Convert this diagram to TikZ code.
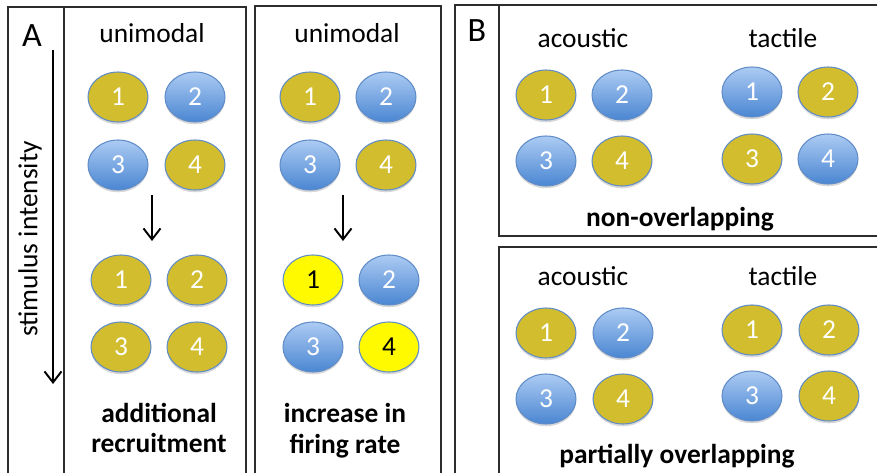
\documentclass[tikz,border=0pt]{standalone}
\usepackage{fontspec}
\setmainfont{Carlito}
\usetikzlibrary{shapes.geometric}
\usetikzlibrary{arrows.meta}
\usetikzlibrary{shadows}

\definecolor{goldfill}{RGB}{209,189,46}
\definecolor{bluetop}{RGB}{172,203,243}
\definecolor{bluebot}{RGB}{74,134,210}
\definecolor{rimblue}{RGB}{96,140,200}
\definecolor{hotyellow}{RGB}{255,250,0}
\definecolor{framegray}{RGB}{45,45,45}

\tikzset{
  cell/.style={ellipse, minimum width=1.2cm, minimum height=1cm, inner sep=0pt,
    draw=rimblue, line width=0.6pt, text=white, font=\fontsize{15.6}{18}\selectfont,
    drop shadow={shadow xshift=0pt, shadow yshift=-1.3pt, opacity=0.22, fill=black!70}},
  goldcell/.style={cell, fill=goldfill},
  bluecell/.style={cell, top color=bluetop, bottom color=bluebot},
  hotcell/.style={cell, fill=hotyellow, text=black},
  panel/.style={draw=framegray, line width=1.1pt},
  heading/.style={font=\fontsize{15.6}{18}\selectfont},
  boldcap/.style={font=\bfseries\fontsize{15.6}{17.6}\selectfont, align=center},
  paneltag/.style={font=\fontsize{19.4}{22}\selectfont},
  flow/.style={-{Straight Barb[length=0.22cm,width=0.34cm]}, line width=1.1pt}
}

\begin{document}
\begin{tikzpicture}[x=0.02cm,y=-0.02cm]
            \useasboundingbox (0,0) rectangle (877,473);
            \clip (0,0) rectangle (877,473);

            \draw[panel] (8,7) rectangle (246,490);
            \draw[panel] (64,7) -- (64,490);
            \draw[panel] (255,6) rectangle (441,490);
            \draw[panel] (455,5) rectangle (900,490);
            \draw[panel] (499,5) rectangle (900,236);
            \draw[panel] (499,247) rectangle (900,490);

            \node[paneltag] (tagA) at (32,36) {A};
            \node[paneltag] (tagB) at (477,31) {B};

            \coordinate (stimS) at (53,50);
            \coordinate (stimE) at (53,384);
            \draw[flow] (stimS) -- (stimE);
            \node[heading, rotate=90] (stim) at (30,239) {stimulus intensity};

            \node[heading] (uniA) at (152,33) {unimodal};
            \node[goldcell] (a1) at (118,97) {1};
            \node[bluecell] (a2) at (195,97) {2};
            \node[bluecell] (a3) at (118,165) {3};
            \node[goldcell] (a4) at (195,165) {4};
            \coordinate (arrAS) at (152,195);
            \coordinate (arrAE) at (152,241);
            \draw[flow] (arrAS) -- (arrAE);
            \node[goldcell] (ra1) at (121,280) {1};
            \node[goldcell] (ra2) at (197,280) {2};
            \node[goldcell] (ra3) at (121,347) {3};
            \node[goldcell] (ra4) at (197,347) {4};
            \node[boldcap] (recruit) at (159,428) {additional\\recruitment};

            \node[heading] (uniB) at (347,33) {unimodal};
            \node[goldcell] (b1) at (310,97) {1};
            \node[bluecell] (b2) at (386,97) {2};
            \node[bluecell] (b3) at (310,165) {3};
            \node[goldcell] (b4) at (386,165) {4};
            \coordinate (arrBS) at (343,195);
            \coordinate (arrBE) at (343,241);
            \draw[flow] (arrBS) -- (arrBE);
            \node[hotcell] (fb1) at (313,280) {1};
            \node[bluecell] (fb2) at (389,280) {2};
            \node[bluecell] (fb3) at (313,347) {3};
            \node[hotcell] (fb4) at (389,347) {4};
            \node[boldcap] (firing) at (345,431) {increase in\\firing rate};

            \node[heading] (acouN) at (583,38) {acoustic};
            \node[heading] (tactN) at (783,38) {tactile};
            \node[goldcell] (na1) at (546,95) {1};
            \node[bluecell] (na2) at (622,95) {2};
            \node[bluecell] (na3) at (546,161) {3};
            \node[goldcell] (na4) at (622,161) {4};
            \node[bluecell] (nt1) at (752,92) {1};
            \node[goldcell] (nt2) at (828,92) {2};
            \node[goldcell] (nt3) at (752,159) {3};
            \node[bluecell] (nt4) at (828,159) {4};
            \node[boldcap] (nonover) at (680,219) {non-overlapping};

            \node[heading] (acouP) at (583,276) {acoustic};
            \node[heading] (tactP) at (783,276) {tactile};
            \node[goldcell] (pa1) at (546,333) {1};
            \node[bluecell] (pa2) at (623,333) {2};
            \node[bluecell] (pa3) at (546,399) {3};
            \node[goldcell] (pa4) at (623,399) {4};
            \node[goldcell] (pt1) at (752,330) {1};
            \node[goldcell] (pt2) at (829,330) {2};
            \node[bluecell] (pt3) at (752,396) {3};
            \node[goldcell] (pt4) at (829,396) {4};
            \node[boldcap] (partover) at (677,456) {partially overlapping};
        \end{tikzpicture}
\end{document}
